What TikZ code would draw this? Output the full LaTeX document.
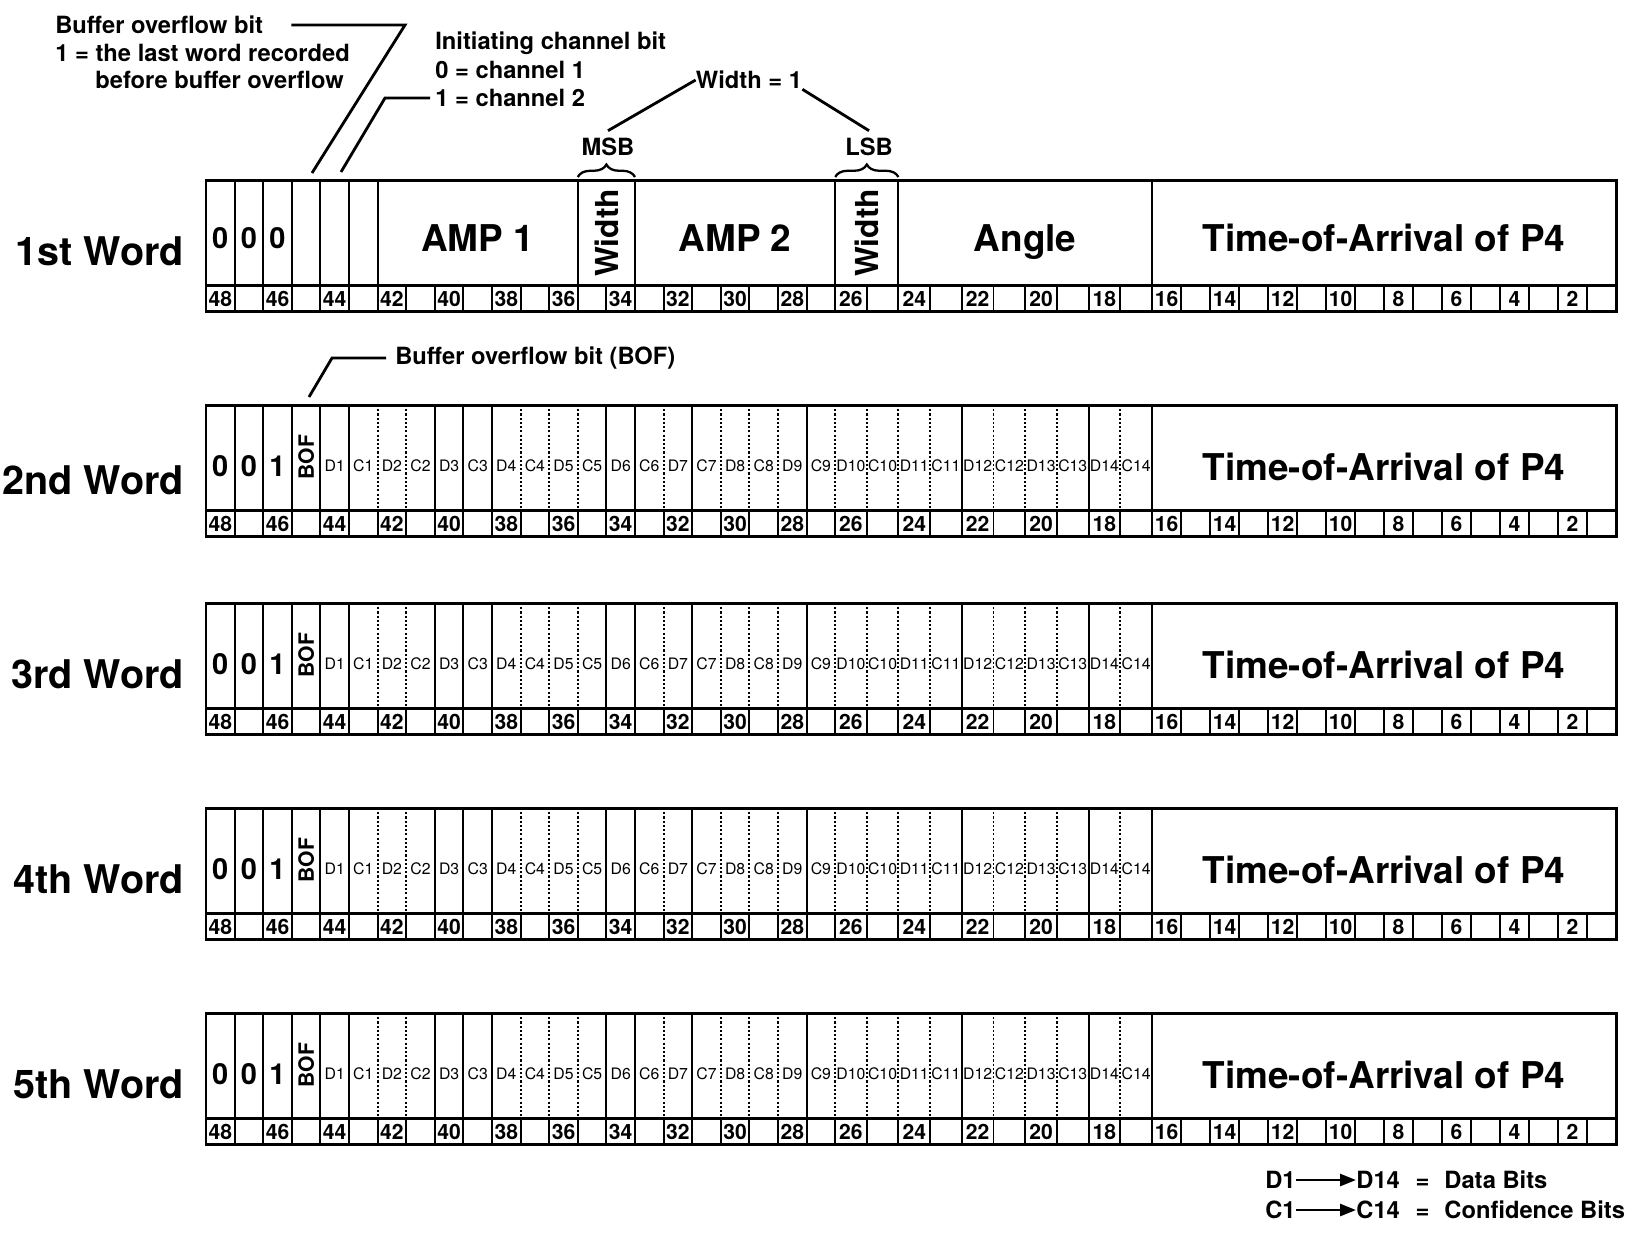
\documentclass[tikz,border=0pt]{standalone}
\usepackage{fontspec}
\setmainfont{TeX Gyre Heros}
\usetikzlibrary{arrows.meta,positioning,decorations.pathreplacing}
% left edge of bit cell #1 (bit 0 = right end of the word)
\pgfmathdeclarefunction{bitx}{1}{%
  \pgfmathparse{#1>=26 ? 206+(48-#1)*28.6 : (#1>=16 ? 835+(26-#1)*31.7 : 1152+(16-#1)*29)}%
}
\tikzset{
  wordframe/.style={line width=1.7pt},
  fieldline/.style={line width=1.1pt},
  dotline/.style={line width=1.1pt, dash pattern=on 1.2pt off 1.2pt},
  wordlbl/.style={anchor=east, inner sep=0pt, font=\bfseries\fontsize{22.5}{26}\selectfont},
  fieldlbl/.style={anchor=base, inner sep=0pt, font=\bfseries\fontsize{21}{24}\selectfont},
  widthlbl/.style={inner sep=0pt, rotate=90, font=\bfseries\fontsize{18}{20}\selectfont},
  zerolbl/.style={inner sep=0pt, font=\bfseries\fontsize{16.5}{18}\selectfont},
  boflbl/.style={inner sep=0pt, rotate=90, font=\bfseries\fontsize{12}{14}\selectfont},
  dclbl/.style={inner sep=0pt, font=\fontsize{9}{10}\selectfont},
  bitnum/.style={inner sep=0pt, font=\bfseries\fontsize{12}{12}\selectfont},
  note/.style={inner sep=0pt, font=\bfseries\fontsize{13.5}{15.6}\selectfont},
  callout/.style={line width=1.6pt},
  msbbrace/.style={decorate, decoration={brace, amplitude=0.25cm}, line width=1.3pt},
  legarrow/.style={-{Triangle[length=0.32cm, width=0.24cm]}, line width=1.5pt}
}

\begin{document}
\begin{tikzpicture}[x=0.02cm, y=-0.02cm]
  \useasboundingbox (0,0) rectangle (1635,1232);

  % word frames and bit number rows
  \foreach \t in {180,405,603,808,1013} {
    \draw[wordframe] ({bitx(48)},\t) rectangle ({bitx(0)},\t+131);
    \draw[wordframe] ({bitx(48)},\t+105) -- ({bitx(0)},\t+105);
    \foreach \b in {47,46,...,1}
      \draw[fieldline] ({bitx(\b)},\t+105) -- ({bitx(\b)},\t+131);
    \foreach \b in {48,46,...,2}
      \node[bitnum] (num\t b\b) at ({(bitx(\b)+bitx(\b-1))/2},\t+119) {\b};
  }

  \foreach \n/\w/\y in {1/1st/251,2/2nd/480,3/3rd/674,4/4th/879,5/5th/1084}
    \node[wordlbl] (word\n) at (184,\y) {\w\ Word};

  % 1st word
  \foreach \b in {47,46,45,44,43,42,35,33,26,24,16}
    \draw[fieldline] ({bitx(\b)},180) -- ({bitx(\b)},285);
  \foreach \b in {48,47,46}
    \node[zerolbl] (r1b\b) at ({(bitx(\b)+bitx(\b-1))/2},238) {0};
  \node[fieldlbl] (amp1) at ({(bitx(42)+bitx(35))/2},251) {AMP 1};
  \node[widthlbl] (msbw) at ({(bitx(35)+bitx(33))/2},233) {Width};
  \node[fieldlbl] (amp2) at ({(bitx(33)+bitx(26))/2},251) {AMP 2};
  \node[widthlbl] (lsbw) at ({(bitx(26)+bitx(24))/2},233) {Width};
  \node[fieldlbl] (angle) at ({(bitx(24)+bitx(16))/2},251) {Angle};
  \node[fieldlbl] (r1toa) at ({(bitx(16)+bitx(0))/2},251) {Time-of-Arrival of P4};

  % 2nd to 5th word
  \foreach \n/\t in {2/405,3/603,4/808,5/1013} {
    \foreach \b in {47,46,45,44,43,40,39,38,34,33,31,27,22,18,16}
      \draw[fieldline] ({bitx(\b)},\t) -- ({bitx(\b)},\t+105);
    \foreach \b in {42,41,37,36,35,32,30,29,28,26,25,24,23,21,20,19,17}
      \draw[dotline] ({bitx(\b)},\t) -- ({bitx(\b)},\t+105);
    \foreach \b/\v in {48/0,47/0,46/1}
      \node[zerolbl] (r\n b\b) at ({(bitx(\b)+bitx(\b-1))/2},\t+61) {\v};
    \node[boflbl] (r\n bof) at ({(bitx(45)+bitx(44))/2},\t+52) {BOF};
    \foreach \k in {1,...,14} {
      \node[dclbl] (r\n d\k) at ({(bitx(46-2*\k)+bitx(45-2*\k))/2},\t+61) {D\k};
      \node[dclbl] (r\n c\k) at ({(bitx(45-2*\k)+bitx(44-2*\k))/2},\t+61) {C\k};
    }
    \node[fieldlbl] (r\n toa) at ({(bitx(16)+bitx(0))/2},\t+75) {Time-of-Arrival of P4};
  }

  % notes above the 1st word
  \node[note, anchor=west] (bovf1) at (55,25) {Buffer overflow bit};
  \node[note, anchor=west] (bovf2) at (55,53) {1 = the last word recorded};
  \node[note, anchor=west] (bovf3) at (95,80) {before buffer overflow};
  \coordinate (bovfturn) at (405,25);
  \coordinate (bovftip) at (312,173);
  \draw[callout] (bovf1.east) ++(28,0) -- (bovfturn) -- (bovftip);

  \node[note, anchor=west] (chan1) at (435,43) {Initiating channel bit};
  \node[note, anchor=west] (chan2) at (435,70) {0 = channel 1};
  \node[note, anchor=west] (chan3) at (435,98) {1 = channel 2};
  \coordinate (chanturn) at (385,98);
  \coordinate (chantip) at (341,172);
  \draw[callout] (chan3.west) ++(-5,0) -- (chanturn) -- (chantip);

  \draw[msbbrace] ({bitx(35)},177) -- ({bitx(33)},177);
  \draw[msbbrace] ({bitx(26)},177) -- ({bitx(24)},177);
  \node[note, inner sep=4pt] (msb) at (608,147) {MSB};
  \node[note, inner sep=4pt] (lsb) at (869,147) {LSB};
  \node[note] (widthnote) at (749,80) {Width = 1};
  \draw[callout] (widthnote.west) -- (msb.north);
  \draw[callout] (widthnote.south east) -- (lsb.north);

  % note above the 2nd word
  \node[note, anchor=west] (bofnote) at (395,358) {Buffer overflow bit (BOF)};
  \coordinate (bofturn) at (332,358);
  \coordinate (boftip) at (309,397);
  \draw[callout] (bofnote.west) ++(-9,0) -- (bofturn) -- (boftip);

  % legend
  \node[note, anchor=west] (ld1) at (1265,1180) {D1};
  \node[note, right=1.2cm of ld1] (ld14) {D14};
  \node[note, right=0.3cm of ld14] (lddata) {=\hspace{0.3cm}Data Bits};
  \node[note, anchor=west] (lc1) at (1265,1210) {C1};
  \node[note, right=1.2cm of lc1] (lc14) {C14};
  \node[note, right=0.3cm of lc14] (lcconf) {=\hspace{0.3cm}Confidence Bits};
  \draw[legarrow] (ld1) -- (ld14);
  \draw[legarrow] (lc1) -- (lc14);
\end{tikzpicture}
\end{document}
